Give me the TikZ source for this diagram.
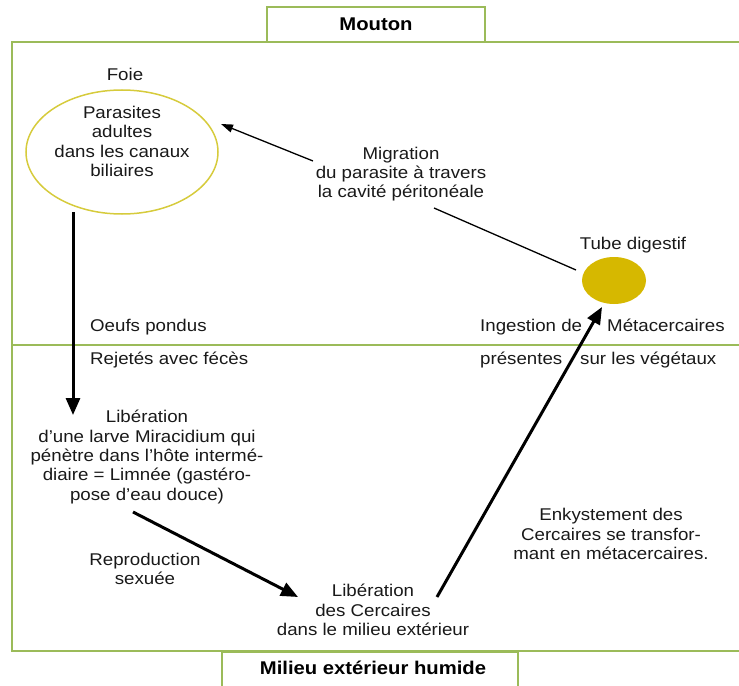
\documentclass[tikz,border=0pt]{standalone}
\usepackage{fontspec}
\setmainfont{Liberation Sans}[FakeStretch=1.1]
\usetikzlibrary{arrows.meta,shapes.geometric}
\definecolor{frameg}{RGB}{155,187,89}
\definecolor{foiey}{RGB}{214,203,60}
\definecolor{tubey}{RGB}{214,184,0}
\definecolor{txt}{RGB}{25,25,25}
\begin{document}
\begin{tikzpicture}[x=1bp,y=-1bp,
  lbl/.style={inner sep=0pt, text=txt, font=\fontsize{17bp}{19.3bp}\selectfont},
  mlbl/.style={lbl, align=center},
  ttl/.style={inner sep=0pt, text=black, font=\fontsize{18.4bp}{20bp}\selectfont\bfseries},
  framel/.style={draw=frameg, line width=2bp},
  thickarr/.style={draw=black, line width=3bp, -{Triangle[length=17bp,width=14bp]}},
  thinarr/.style={draw=black, line width=1.3bp, -{Triangle[length=12bp,width=8bp]}},
  thinline/.style={draw=black, line width=1.3bp}]
\useasboundingbox (0,0) rectangle (739,686);
% frame and separating line
\draw[framel] (739,42) -- (12,42) -- (12,651) -- (739,651);
\draw[draw=frameg, line width=1.3bp] (12,345) -- (739,345);
% title boxes
\node[ttl, framel, fill=white, minimum width=218bp, minimum height=35bp] (mouton) at (376,24.5) {Mouton};
\node[framel, fill=white, inner sep=0pt, minimum width=296bp, minimum height=40bp, anchor=north] (milieubox) at (370,651) {};
\node[ttl] (milieu) at (373,668) {Milieu extérieur humide};
% liver
\node[lbl, anchor=base] (foielbl) at (125,81) {Foie};
\node[ellipse, draw=foiey, line width=1.5bp, inner sep=0pt, minimum width=192bp, minimum height=124bp] (foie) at (122,152) {};
\node[mlbl] (parasites) at (122,141.5) {Parasites\\adultes\\dans les canaux\\biliaires};
% migration
\node[mlbl] (migration) at (401,174) {Migration\\du parasite à travers\\la cavité péritonéale};
% digestive tube
\node[lbl, anchor=base] (tubelbl) at (633,249) {Tube digestif};
\node[ellipse, fill=tubey, inner sep=0pt, minimum width=64bp, minimum height=47bp] (tube) at (614,280.5) {};
% texts along the separating line
\node[lbl, anchor=base west] (oeufs) at (90,331) {Oeufs pondus};
\node[lbl, anchor=base west] (rejetes) at (90,364) {Rejetés avec fécès};
\node[lbl, anchor=base west] (ingestion) at (480,331) {Ingestion de};
\node[lbl, anchor=base west] (metac) at (607,331) {Métacercaires};
\node[lbl, anchor=base west] (presentes) at (480,364) {présentes};
\node[lbl, anchor=base west] (surveg) at (580,364) {sur les végétaux};
% lower part
\node[mlbl] (miracidium) at (147,457) {Libération\\d’une larve Miracidium qui\\pénètre dans l’hôte intermé-\\diaire = Limnée (gastéro-\\pose d’eau douce)};
\node[mlbl] (repro) at (145,569) {Reproduction\\sexuée};
\node[mlbl] (cercaires) at (373,610) {Libération\\des Cercaires\\dans le milieu extérieur};
\node[mlbl] (enkyst) at (611,534) {Enkystement des\\Cercaires se transfor-\\mant en métacercaires.};
% connector end points
\coordinate (a1s) at (73,212);
\coordinate (a1e) at (73,415);
\coordinate (a2s) at (133,512);
\coordinate (a2e) at (298,597);
\coordinate (a3s) at (437,597);
\coordinate (a3e) at (602,307);
\coordinate (a4s) at (313,161);
\coordinate (a4e) at (221,124);
\coordinate (l5s) at (576,270);
\coordinate (l5e) at (434,208);
% connectors
\draw[thickarr] (a1s) -- (a1e);
\draw[thickarr] (a2s) -- (a2e);
\draw[thickarr] (a3s) -- (a3e);
\draw[thinarr] (a4s) -- (a4e);
\draw[thinline] (l5s) -- (l5e);
\end{tikzpicture}
\end{document}
